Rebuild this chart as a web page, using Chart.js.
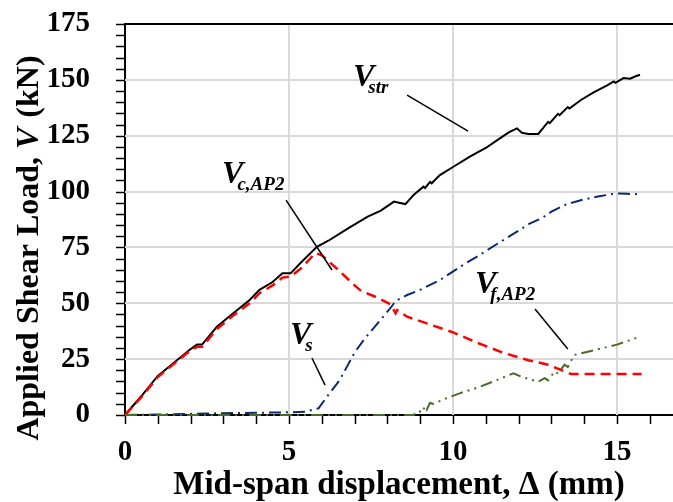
<!DOCTYPE html>
<html>
<head>
<meta charset="utf-8">
<script src="https://cdn.jsdelivr.net/npm/chart.js@4.4.0/dist/chart.umd.min.js"></script>
<style>
  html, body { margin: 0; padding: 0; background: #fff; overflow: hidden; }
  #wrap { width: 700px; height: 502px; }
</style>
</head>
<body>
<div id="wrap"><canvas id="chart" width="700" height="502"></canvas></div>
<script>
// Mid-span displacement (mm) vs shear load components (kN)
const strX = [0, 0.5, 1.0, 1.5, 2.0, 2.2, 2.35, 2.8, 3.3, 3.8, 4.1, 4.5, 4.8, 5.05, 5.35, 5.85, 6.2, 6.8, 7.4, 7.8, 8.2, 8.35, 8.55, 8.8, 9.1, 9.15, 9.3, 9.35, 9.6, 10.0, 10.5, 11.0, 11.35, 11.7, 11.95, 12.1, 12.3, 12.6, 12.9, 12.95, 13.2, 13.25, 13.5, 13.55, 13.9, 14.3, 14.7, 14.9, 14.95, 15.2, 15.4, 15.55, 15.7];
const strY = [0, 8.5, 17.5, 23.5, 29.5, 31.5, 31.5, 39.5, 45.5, 51.5, 56, 59.5, 63.4, 63.4, 68, 75.3, 78, 83.5, 88.8, 91.5, 95.5, 95, 94.4, 98.5, 102.2, 101.6, 104.3, 103.7, 107.4, 111, 115.5, 119.5, 123, 126.5, 128.3, 126.3, 125.8, 125.8, 131.2, 130.6, 134.8, 134.2, 137.8, 137.2, 141, 144.5, 147.5, 149.3, 148.7, 150.8, 150.5, 151.5, 152.3];

const concX = [0, 0.5, 1.0, 1.5, 2.0, 2.2, 2.35, 2.8, 3.3, 3.8, 4.1, 4.5, 4.8, 5.05, 5.4, 5.8, 6.0, 6.5, 7.0, 7.2, 7.7, 8.1, 8.25, 8.3, 8.6, 9.3, 10.0, 10.8, 11.5, 12.3, 12.9, 13.4, 13.6, 14.5, 15.75];
const concY = [0, 8, 17, 23, 29, 30.5, 30.5, 38.5, 44.5, 50, 54.5, 58, 61.5, 62, 66, 72.5, 71.5, 65, 58, 55.5, 52.5, 49.5, 45.5, 47, 44, 40.5, 37, 32, 28, 24.5, 22.5, 19.5, 18.3, 18.3, 18.3];

const steelX = [0, 1, 2, 3, 4, 5, 5.5, 5.9, 6.2, 6.55, 7.0, 7.3, 7.7, 8.1, 8.25, 8.6, 9.0, 9.6, 10.4, 10.8, 11.5, 12.0, 12.35, 12.7, 13.0, 13.47, 14.0, 14.5, 15.0, 15.3, 15.7];
const steelY = [0, 0.2, 0.5, 0.8, 1.0, 1.2, 1.5, 3, 9, 15.7, 28, 34, 41, 48, 51, 53.7, 56, 60.4, 68, 71.5, 78, 82.5, 85.8, 88, 91, 94.4, 96.5, 98, 99.2, 99, 98.8];

const frpX = [0, 8.8, 8.95, 9.05, 9.15, 9.2, 9.3, 9.4, 9.8, 10.2, 10.8, 11.4, 11.84, 12.1, 12.6, 12.8, 12.9, 13.1, 13.2, 13.4, 13.5, 13.7, 14.3, 15.0, 15.65];
const frpY = [0, 0, 2, 1, 4, 2.5, 5.5, 5, 7.5, 9.7, 12.5, 16, 18.7, 17, 14.9, 16.5, 15.5, 19.5, 18.5, 22.5, 21.5, 26.9, 29, 31.5, 34.8];

const xLabels = [0, 5, 10, 15];
const yLabels = [0, 25, 50, 75, 100, 125, 150, 175];
const xMinorStep = 1;
const yMinorStep = 5;

const SERIF = "'Liberation Serif', 'Times New Roman', serif";

function pts(xs, ys) {
    return xs.map((x, i) => ({ x: x, y: ys[i] }));
}

// pin the plot box: no automatic label padding
function noPad(scale) {
    scale.paddingTop = 0;
    scale.paddingBottom = 0;
    scale.paddingLeft = 0;
    scale.paddingRight = 0;
}

// curve labels with leader lines (data coordinates)
const notes = [
    { main: 'V', sub: 'str',   at: [6.95, 147.3], from: [8.6, 143.2],  to: [10.46, 127.1] },
    { main: 'V', sub: 'c,AP2', at: [2.96, 103.8], from: [4.91, 96.2],  to: [6.31, 64.9] },
    { main: 'V', sub: 's',     at: [5.03, 31.8],  from: [5.7, 25.5],   to: [6.1, 13.4] },
    { main: 'V', sub: 'f,AP2', at: [10.67, 54.6], from: [12.5, 47.4],  to: [13.5, 29.5] }
];

const decorations = {
    id: 'decorations',
    beforeDatasetsDraw(chart) {
        const { ctx, chartArea: a } = chart;
        const xs = chart.scales.x, ys = chart.scales.y;
        ctx.save();

        // major grid lines
        ctx.strokeStyle = '#d9d9d9';
        ctx.lineWidth = 2;
        ctx.beginPath();
        xLabels.forEach(v => {
            if (v === 0) return;
            const p = Math.round(xs.getPixelForValue(v));
            ctx.moveTo(p, a.top);
            ctx.lineTo(p, a.bottom);
        });
        yLabels.forEach(v => {
            if (v === 0 || v === ys.max) return;
            const p = Math.round(ys.getPixelForValue(v));
            ctx.moveTo(a.left, p);
            ctx.lineTo(a.right, p);
        });
        ctx.stroke();

        // tick marks, outside
        ctx.strokeStyle = '#000';
        ctx.lineWidth = 1.5;
        ctx.beginPath();
        for (let v = xs.min; v <= xs.max; v += xMinorStep) {
            const p = Math.round(xs.getPixelForValue(v)) + 0.5;
            ctx.moveTo(p, a.bottom);
            ctx.lineTo(p, a.bottom + 9);
        }
        for (let v = ys.min; v <= ys.max; v += yMinorStep) {
            const p = Math.round(ys.getPixelForValue(v)) + 0.5;
            ctx.moveTo(a.left, p);
            ctx.lineTo(a.left - 9, p);
        }
        ctx.stroke();

        // frame top / right
        ctx.lineWidth = 2;
        ctx.beginPath();
        ctx.moveTo(a.left, a.top);
        ctx.lineTo(a.right, a.top);
        ctx.lineTo(a.right, a.bottom);
        ctx.stroke();
        ctx.restore();
    },
    afterDraw(chart) {
        const { ctx } = chart;
        const xs = chart.scales.x, ys = chart.scales.y;
        ctx.save();
        ctx.fillStyle = '#000';
        ctx.strokeStyle = '#000';

        notes.forEach(n => {
            const px = xs.getPixelForValue(n.at[0]);
            const py = ys.getPixelForValue(n.at[1]);
            ctx.textAlign = 'left';
            ctx.textBaseline = 'alphabetic';
            ctx.font = 'italic bold 32px ' + SERIF;
            ctx.fillText(n.main, px, py);
            const w = ctx.measureText(n.main).width;
            ctx.font = 'italic bold 19px ' + SERIF;
            ctx.fillText(n.sub, px + w - 6, py + 7);

            ctx.lineWidth = 1.5;
            ctx.beginPath();
            ctx.moveTo(xs.getPixelForValue(n.from[0]), ys.getPixelForValue(n.from[1]));
            ctx.lineTo(xs.getPixelForValue(n.to[0]), ys.getPixelForValue(n.to[1]));
            ctx.stroke();
        });

        // x axis title
        ctx.font = 'bold 33px ' + SERIF;
        ctx.textAlign = 'center';
        ctx.textBaseline = 'alphabetic';
        ctx.fillText('Mid-span displacement, \u0394 (mm)', 399, 494);

        // y axis title, mixed upright / italic
        const partA = 'Applied Shear Load, ';
        const partB = 'V';
        const partC = ' (kN)';
        const fUp = 'bold 32px ' + SERIF;
        const fIt = 'italic bold 32px ' + SERIF;
        ctx.font = fUp;
        const wA = ctx.measureText(partA).width;
        const wC = ctx.measureText(partC).width;
        ctx.font = fIt;
        const wB = ctx.measureText(partB).width;
        const total = wA + wB + wC;
        ctx.translate(38, 249);
        ctx.rotate(-Math.PI / 2);
        ctx.textAlign = 'left';
        let x0 = -total / 2;
        ctx.font = fUp;
        ctx.fillText(partA, x0, 0);
        ctx.font = fIt;
        ctx.fillText(partB, x0 + wA, 0);
        ctx.font = fUp;
        ctx.fillText(partC, x0 + wA + wB + 2, 0);
        ctx.restore();
    }
};

new Chart(document.getElementById('chart'), {
    type: 'scatter',
    data: {
        datasets: [
            {
                label: 'Vstr',
                data: pts(strX, strY),
                showLine: true,
                borderColor: '#000000',
                borderWidth: 2,
                pointRadius: 0,
                order: 4,
                clip: false
            },
            {
                label: 'Vc,AP2',
                data: pts(concX, concY),
                showLine: true,
                borderColor: '#ff0000',
                borderWidth: 2.5,
                borderDash: [10, 6],
                pointRadius: 0,
                order: 3,
                clip: false
            },
            {
                label: 'Vs',
                data: pts(steelX, steelY),
                showLine: true,
                borderColor: '#0d2a6e',
                borderWidth: 2,
                borderDash: [12, 5, 2, 5],
                pointRadius: 0,
                order: 2,
                clip: false
            },
            {
                label: 'Vf,AP2',
                data: pts(frpX, frpY),
                showLine: true,
                borderColor: '#4a6b2a',
                borderWidth: 2,
                borderDash: [12, 5, 2, 5, 2, 5],
                pointRadius: 0,
                order: 1,
                clip: false
            }
        ]
    },
    options: {
        responsive: false,
        animation: false,
        events: [],
        layout: {
            padding: { top: 24, right: 17.4, left: 0, bottom: 0 }
        },
        plugins: {
            legend: { display: false },
            tooltip: { enabled: false },
            title: { display: false }
        },
        scales: {
            x: {
                type: 'linear',
                min: 0,
                max: 17,
                afterFit: function(scale) { scale.height = 87; noPad(scale); },
                border: { color: '#000', width: 2 },
                grid: { display: false },
                ticks: {
                    stepSize: 1,
                    autoSkip: false,
                    maxRotation: 0,
                    padding: 12,
                    color: '#000',
                    font: { family: SERIF, size: 29, weight: 'bold' },
                    callback: v => xLabels.includes(v) ? String(v) : ''
                }
            },
            y: {
                type: 'linear',
                min: 0,
                max: 175,
                afterFit: function(scale) { scale.width = 125; noPad(scale); },
                border: { color: '#000', width: 2 },
                grid: { display: false },
                ticks: {
                    stepSize: 5,
                    autoSkip: false,
                    padding: 27,
                    color: '#000',
                    font: { family: SERIF, size: 29, weight: 'bold' },
                    callback: v => yLabels.includes(v) ? String(v) : ''
                }
            }
        }
    },
    plugins: [decorations]
});
</script>
</body>
</html>
